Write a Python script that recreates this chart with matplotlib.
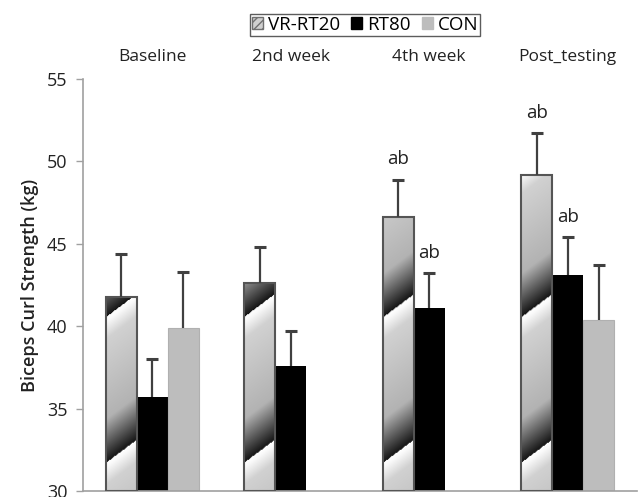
import numpy as np
import matplotlib
matplotlib.use("Agg")
import matplotlib.pyplot as plt
from matplotlib.patches import Patch, Rectangle
from matplotlib.transforms import blended_transform_factory

plt.rcParams['font.family'] = ['Open Sans', 'DejaVu Sans']

groups = ["Baseline", "2nd week", "4th week", "Post_testing"]
series = ["VR-RT20", "RT80", "CON"]
vr_mean = [41.8, 42.6, 46.6, 49.2]
vr_err = [2.6, 2.2, 2.3, 2.5]
rt_mean = [35.7, 37.6, 41.1, 43.1]
rt_err = [2.3, 2.1, 2.1, 2.3]
con_mean = [39.9, np.nan, np.nan, 40.4]
con_err = [3.4, np.nan, np.nan, 3.3]
# significance marks: (series index, group index, text)
marks = [(0, 2, "ab"), (1, 2, "ab"), (0, 3, "ab"), (1, 3, "ab")]

W, H = 642, 497
fig = plt.figure(figsize=(W / 100, H / 100), dpi=100)
ax_l, ax_r, ax_b, ax_t = 83 / W, 637 / W, 1 - 491 / H, 1 - 79 / H
ax = fig.add_axes([ax_l, ax_b, ax_r - ax_l, ax_t - ax_b])

ymin, ymax = 30, 55
xmin, xmax = -0.5, 3.5
ax.set_xlim(xmin, xmax)
ax.set_ylim(ymin, ymax)

bw = 0.224
x = np.arange(len(groups))
offs = [-bw, 0, bw]

px_x = (637 - 83) / (xmax - xmin)
px_y = (491 - 79) / (ymax - ymin)


def shade(ph):
    return np.interp(ph, [0.0, 0.3, 0.85, 0.97, 1.0], [0.08, 0.70, 0.82, 0.98, 1.0])


for i, (m, e) in enumerate(zip(vr_mean, vr_err)):
    x0 = x[i] + offs[0] - bw / 2
    x1 = x0 + bw
    hpx = int((m - ymin) * px_y)
    wpx = int(bw * px_x)
    yy, xx = np.mgrid[0:hpx, 0:wpx] + 0.5
    ph = ((yy - 0.77 * xx - 28) / 145.0) % 1.0
    g = shade(ph)
    img = np.dstack([g, g, g])[::-1]
    ax.imshow(img, extent=[x0, x1, ymin, m], aspect='auto', zorder=2,
              interpolation='bilinear')
    ax.add_patch(Rectangle((x0, ymin), bw, m - ymin, facecolor='none',
                           edgecolor='#555555', lw=1.5, zorder=3))

ax.bar(x + offs[1], np.array(rt_mean) - ymin, bw, bottom=ymin, color='black',
       zorder=2)
ax.bar(x + offs[2], np.array(con_mean) - ymin, bw, bottom=ymin,
       color='#bdbdbd', edgecolor='#b0b0b0', lw=0.8, zorder=2)

ecol = '#404040'
for s, (mm, ee) in enumerate([(vr_mean, vr_err), (rt_mean, rt_err), (con_mean, con_err)]):
    mm = np.array(mm, float)
    ee = np.array(ee, float)
    ok = ~np.isnan(mm)
    xs = x[ok] + offs[s]
    ax.vlines(xs, mm[ok], mm[ok] + ee[ok], color=ecol, lw=1.6, zorder=4)
    ax.plot(xs, mm[ok] + ee[ok], ls='none', marker='_', ms=8, mew=2.2,
            color=ecol, zorder=4)

allm = [vr_mean, rt_mean, con_mean]
alle = [vr_err, rt_err, con_err]
for s, g, t in marks:
    ax.annotate(t, (x[g] + offs[s], allm[s][g] + alle[s][g]),
                xytext=(0, 8), textcoords='offset points', ha='center',
                va='bottom', fontsize=13.5, color='#222222')

ax.set_xlim(xmin, xmax)
ax.set_ylim(ymin, ymax)

for sp in ['top', 'right']:
    ax.spines[sp].set_visible(False)
ax.spines['left'].set_color('#a0a0a0')
ax.spines['bottom'].set_color('#a0a0a0')
ax.spines['left'].set_linewidth(1.2)
ax.spines['bottom'].set_linewidth(1.2)
ax.set_xticks([])
ax.set_yticks(np.arange(30, 56, 5))
ax.tick_params(axis='y', colors='#a0a0a0', length=5, width=1.0,
               labelcolor='#222222', labelsize=13, pad=6)

tr = blended_transform_factory(ax.transData, fig.transFigure)
for i, gname in enumerate(groups):
    ax.text(x[i], 1 - 57 / H, gname, transform=tr, ha='center', va='center',
            fontsize=12.5, color='#222222')

ax.set_ylabel("Biceps Curl Strength (kg)", fontsize=13, fontweight='semibold',
              color='#222222', labelpad=6)

handles = [Patch(facecolor='#d0d0d0', edgecolor='#707070', hatch='////'),
           Patch(facecolor='black', edgecolor='black'),
           Patch(facecolor='#bdbdbd', edgecolor='#bdbdbd')]
leg = fig.legend(handles, series, loc='center', bbox_to_anchor=(365 / W, 1 - 25 / H),
                 ncol=3, frameon=True, fancybox=False, fontsize=13.5,
                 handlelength=0.6, handleheight=0.6, handletextpad=0.25,
                 columnspacing=0.6, borderpad=0.1, borderaxespad=0,
                 edgecolor='#333333')
leg.get_frame().set_linewidth(1.0)

fig.savefig("out.png", dpi=100)
